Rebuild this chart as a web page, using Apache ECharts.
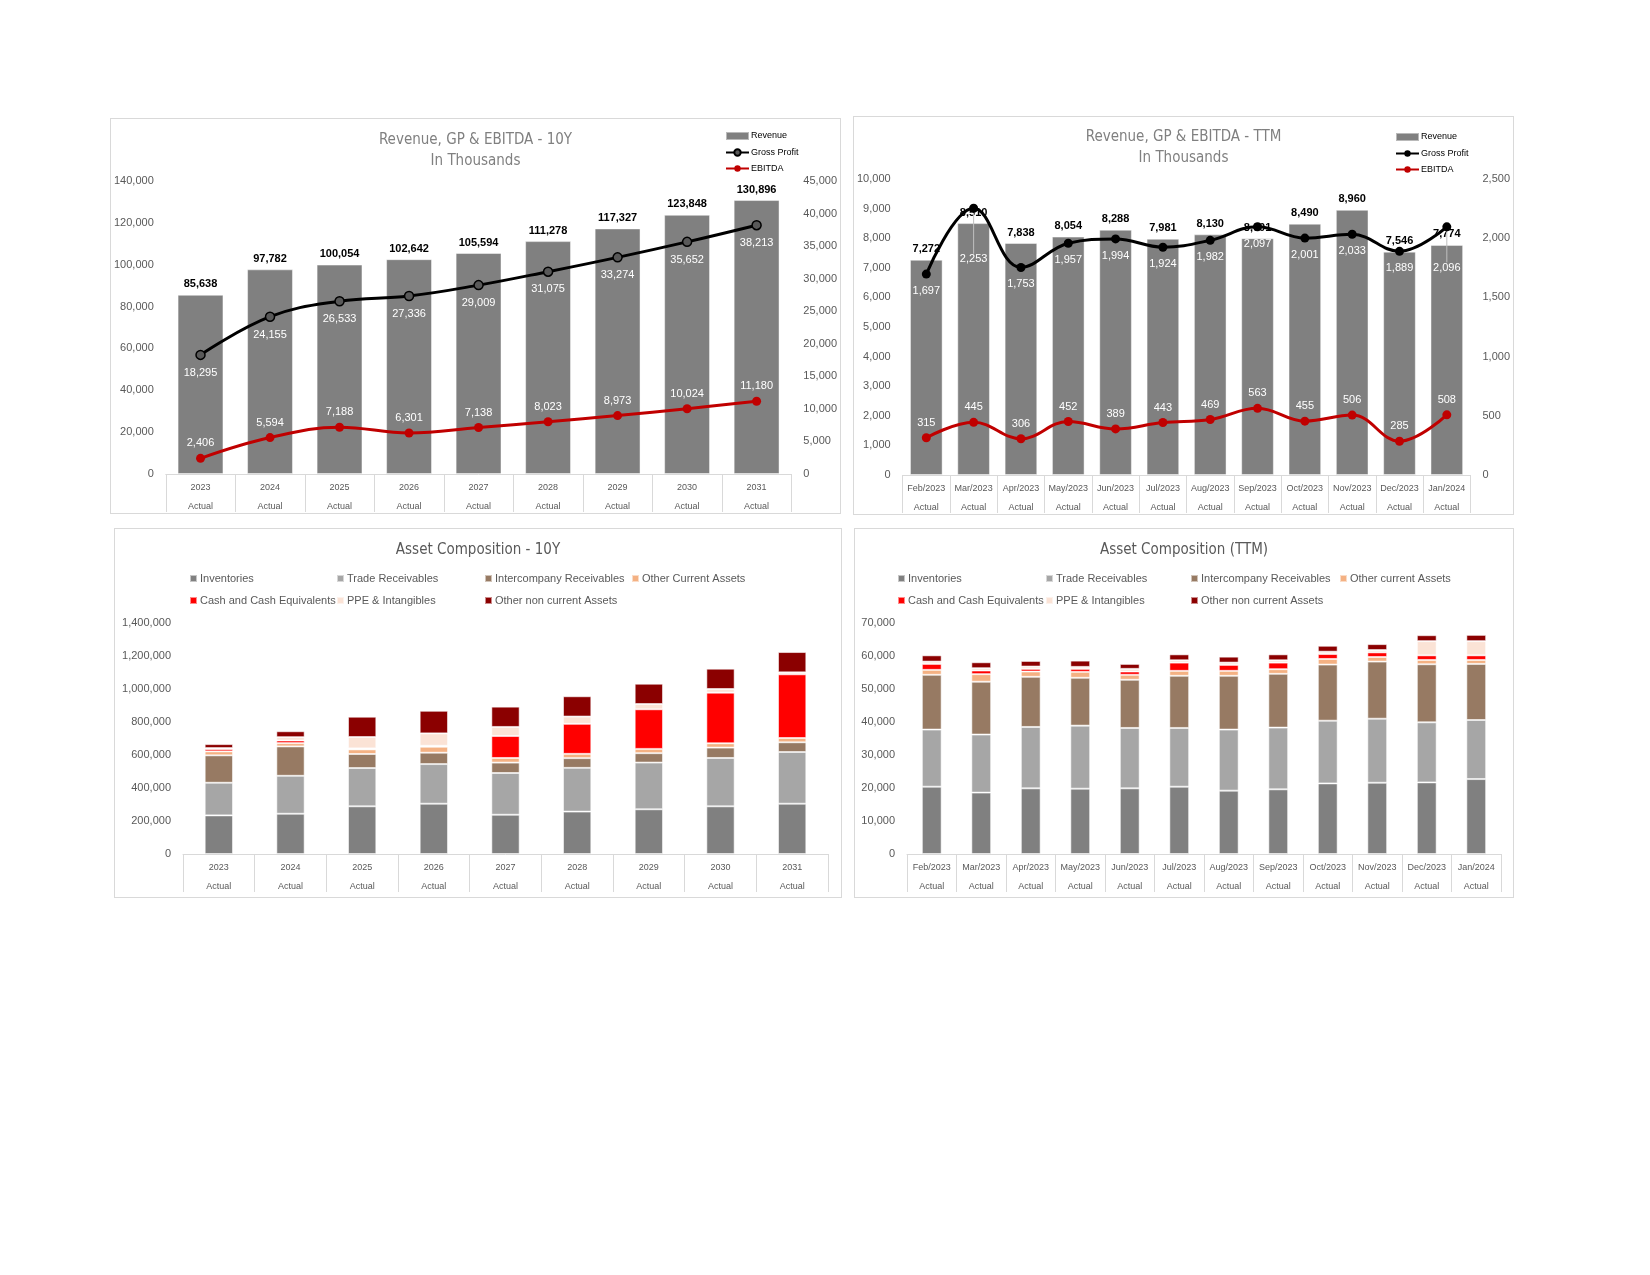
<!DOCTYPE html>
<html>
<head>
<meta charset="utf-8">
<title>Revenue and Asset Composition</title>
<script src="https://cdn.jsdelivr.net/npm/echarts@6/dist/echarts.min.js"></script>
<style>
    html, body { margin: 0; padding: 0; background: #fff; }
    body { width: 1650px; height: 1275px; position: relative; overflow: hidden; }
    .panel { position: absolute; box-sizing: border-box; border: 1px solid #d9d9d9; background: #fff; }
</style>
</head>
<body>
<div class="panel" id="rev10y" style="left:110px;top:118px;width:731px;height:396px;"></div>
<div class="panel" id="revTtm" style="left:853px;top:116px;width:661px;height:399px;"></div>
<div class="panel" id="asset10y" style="left:114px;top:528px;width:728px;height:370px;"></div>
<div class="panel" id="assetTtm" style="left:854px;top:528px;width:660px;height:370px;"></div>
<script>
// ---- data: 10 year ----
var years = ['2023', '2024', '2025', '2026', '2027', '2028', '2029', '2030', '2031'];
var revenue10y = [85638, 97782, 100054, 102642, 105594, 111278, 117327, 123848, 130896];
var grossProfit10y = [18295, 24155, 26533, 27336, 29009, 31075, 33274, 35652, 38213];
var ebitda10y = [2406, 5594, 7188, 6301, 7138, 8023, 8973, 10024, 11180];

// ---- data: trailing twelve months ----
var months = ['Feb/2023', 'Mar/2023', 'Apr/2023', 'May/2023', 'Jun/2023', 'Jul/2023',
    'Aug/2023', 'Sep/2023', 'Oct/2023', 'Nov/2023', 'Dec/2023', 'Jan/2024'];
var revenueTtm = [7272, 8510, 7838, 8054, 8288, 7981, 8130, 8001, 8490, 8960, 7546, 7774];
var grossProfitTtm = [1697, 2253, 1753, 1957, 1994, 1924, 1982, 2097, 2001, 2033, 1889, 2096];
var ebitdaTtm = [315, 445, 306, 452, 389, 443, 469, 563, 455, 506, 285, 508];

var periodType = 'Actual';

// ---- asset composition 10Y ----
var inventories10y = [234000, 244000, 289000, 305000, 238000, 257000, 271000, 289000, 305000];
var tradeRec10y = [198000, 230000, 232000, 240000, 253000, 265000, 283000, 293000, 313000];
var interco10y = [166000, 178000, 85000, 69000, 63000, 59000, 57000, 63000, 59000];
var otherCurrent10y = [24000, 20000, 28000, 36000, 28000, 26000, 26000, 26000, 26000];
var cash10y = [14000, 16000, 6000, 6000, 133000, 182000, 240000, 307000, 386000];
var ppe10y = [6000, 20000, 69000, 75000, 55000, 44000, 32000, 22000, 12000];
var otherNonCurrent10y = [24000, 36000, 123000, 137000, 123000, 123000, 123000, 123000, 123000];

// ---- asset composition TTM ----
var inventoriesTtm = [20400, 18600, 19900, 19800, 19900, 20400, 19200, 19600, 21400, 21600, 21700, 22700];
var tradeRecTtm = [17300, 17600, 18600, 19100, 18300, 17800, 18500, 18700, 19000, 19400, 18200, 17900];
var intercoTtm = [16600, 16000, 15200, 14500, 14600, 15800, 16300, 16300, 17000, 17300, 17600, 17000];
var otherCurrentTtm = [1500, 2300, 1600, 1800, 1500, 1500, 1500, 1400, 1700, 1400, 1300, 1200];
var cashTtm = [1800, 1100, 800, 900, 1000, 2500, 1800, 2000, 1500, 1400, 1400, 1400];
var ppeTtm = [700, 700, 700, 600, 800, 700, 700, 700, 700, 700, 4300, 4300];
var otherNonCurrentTtm = [1900, 1800, 1700, 1900, 1500, 1800, 1800, 1800, 1800, 1800, 1800, 1900];

var NARROW = "'Liberation Sans Narrow', 'DejaVu Sans Condensed', sans-serif";
var SANS = "'Liberation Sans', Arial, sans-serif";
var AXIS_GREY = '#d9d9d9';
var TEXT_GREY = '#595959';

function fmt(v) {
    return Number(v).toLocaleString('en-US');
}

//两行的类目轴（年份 / Actual）
function tableAxis(cats) {
    return {
        type: 'category',
        data: cats,
        axisLine: { lineStyle: { color: AXIS_GREY } },
        axisTick: { show: true, interval: 0, length: 38, lineStyle: { color: AXIS_GREY } },
        axisLabel: {
            interval: 0,
            margin: 4,
            formatter: function (v) { return '{y|' + v + '}\n{a|' + periodType + '}'; },
            rich: {
                y: { fontSize: 9, lineHeight: 19, color: TEXT_GREY, fontFamily: SANS },
                a: { fontSize: 9, lineHeight: 19, color: TEXT_GREY, fontFamily: SANS }
            }
        }
    };
}

function valueAxis(max, interval, pos) {
    return {
        type: 'value',
        position: pos,
        min: 0,
        max: max,
        interval: interval,
        axisLine: { show: false },
        axisTick: { show: false },
        splitLine: { show: false },
        axisLabel: { margin: 12, fontSize: 11, color: TEXT_GREY, fontFamily: SANS, formatter: fmt }
    };
}

function revenueOption(cfg) {
    var shift = cfg.gpLabelShift || {};
    //被遮挡的标签往下挪，只在这些点画引导线
    var gpData = cfg.gp.map(function (v, i) {
        return shift[i] ? { value: v, labelLine: { show: true } } : { value: v, labelLine: { show: false } };
    });
    return {
        animation: false,
        title: {
            text: cfg.title + '\nIn Thousands',
            left: 'center',
            top: cfg.titleTop,
            padding: 0,
            textStyle: { fontSize: 15, lineHeight: 21, color: '#808080', fontWeight: 'normal', fontFamily: NARROW }
        },
        legend: {
            orient: 'vertical',
            left: cfg.legendLeft,
            top: cfg.legendTop,
            padding: 0,
            itemWidth: 23,
            itemHeight: 8,
            itemGap: 7,
            textStyle: { fontSize: 9, color: '#000', fontFamily: SANS, padding: [0, 0, 0, -3] },
            data: [{ name: 'Revenue', icon: 'rect' }, 'Gross Profit', 'EBITDA']
        },
        grid: cfg.grid,
        xAxis: tableAxis(cfg.cats),
        yAxis: [valueAxis(cfg.leftMax, cfg.leftInterval, 'left'), valueAxis(cfg.rightMax, cfg.rightInterval, 'right')],
        series: [
            {
                name: 'Revenue',
                type: 'bar',
                barCategoryGap: cfg.gap,
                data: cfg.revenue,
                itemStyle: { color: '#808080', borderColor: 'rgba(255,255,255,0.45)', borderWidth: 1 },
                label: {
                    show: true, position: 'top', distance: 5, formatter: function (p) { return fmt(p.value); },
                    fontSize: 11, fontWeight: 'bold', color: '#000', fontFamily: SANS
                }
            },
            {
                name: 'Gross Profit',
                type: 'line',
                yAxisIndex: 1,
                smooth: 0.4,
                data: gpData,
                symbol: 'circle',
                symbolSize: cfg.gpSymbol,
                lineStyle: { color: '#000', width: 3 },
                itemStyle: { color: cfg.gpFill, borderColor: '#000', borderWidth: cfg.gpBorder },
                label: {
                    show: true, position: 'bottom', distance: 7, formatter: function (p) { return fmt(p.value); },
                    fontSize: 11, color: '#fff', fontFamily: SANS
                },
                labelLayout: function (p) {
                    if (shift[p.dataIndex]) {
                        return { dy: shift[p.dataIndex] };
                    }
                },
                labelLine: { lineStyle: { color: '#bfbfbf', width: 1 } },
                z: 3
            },
            {
                name: 'EBITDA',
                type: 'line',
                yAxisIndex: 1,
                smooth: 0.4,
                data: cfg.ebitda,
                symbol: 'circle',
                symbolSize: 9,
                lineStyle: { color: '#c00000', width: 3 },
                itemStyle: { color: '#c00000' },
                label: {
                    show: true, position: 'top', distance: 5, formatter: function (p) { return fmt(p.value); },
                    fontSize: 11, color: '#fff', fontFamily: SANS
                },
                z: 3
            }
        ]
    };
}

var assetColors = ['#808080', '#a6a6a6', '#977a63', '#f4b183', '#ff0000', '#fbe3d6', '#8b0000'];

function assetOption(cfg) {
    var names = cfg.names;
    var legends = names.map(function (n, i) {
        return {
            data: [{ name: n, icon: 'rect' }],
            left: cfg.legendX[i % 4],
            top: i < 4 ? 44 : 66,
            padding: 0,
            itemWidth: 7,
            itemHeight: 7,
            textStyle: { fontSize: 11, color: TEXT_GREY, fontFamily: SANS, padding: [0, 0, 0, -2] }
        };
    });
    var series = cfg.values.map(function (vals, i) {
        return {
            name: names[i],
            type: 'bar',
            stack: 'assets',
            barWidth: cfg.barWidth,
            data: vals,
            itemStyle: { color: assetColors[i], borderColor: 'rgba(255,255,255,0.55)', borderWidth: 1 }
        };
    });
    return {
        animation: false,
        title: {
            text: cfg.title,
            left: 'center',
            top: 14,
            padding: 0,
            textStyle: { fontSize: 15, color: TEXT_GREY, fontWeight: 'normal', fontFamily: NARROW }
        },
        legend: legends,
        grid: cfg.grid,
        xAxis: tableAxis(cfg.cats),
        yAxis: valueAxis(cfg.max, cfg.interval, 'left'),
        series: series
    };
}

var rev10y = echarts.init(document.getElementById('rev10y'));
rev10y.setOption(revenueOption({
    title: 'Revenue, GP & EBITDA - 10Y',
    titleTop: 11,
    legendLeft: 614,
    legendTop: 12,
    grid: { left: 53, right: 47, top: 62, bottom: 39 },
    cats: years,
    gap: '34%',
    leftMax: 140000, leftInterval: 20000,
    rightMax: 45000, rightInterval: 5000,
    revenue: revenue10y, gp: grossProfit10y, ebitda: ebitda10y,
    gpSymbol: 9, gpFill: '#595959', gpBorder: 1.5
}));

var revTtm = echarts.init(document.getElementById('revTtm'));
revTtm.setOption(revenueOption({
    title: 'Revenue, GP & EBITDA - TTM',
    titleTop: 10,
    legendLeft: 541,
    legendTop: 15,
    grid: { left: 48, right: 41, top: 62, bottom: 39 },
    cats: months,
    gap: '31%',
    leftMax: 10000, leftInterval: 1000,
    rightMax: 2500, rightInterval: 500,
    revenue: revenueTtm, gp: grossProfitTtm, ebitda: ebitdaTtm,
    gpSymbol: 9, gpFill: '#000', gpBorder: 0,
    gpLabelShift: { 1: 34, 11: 24 }
}));

var asset10y = echarts.init(document.getElementById('asset10y'));
asset10y.setOption(assetOption({
    title: 'Asset Composition - 10Y',
    names: ['Inventories', 'Trade Receivables', 'Intercompany Receivables', 'Other Current Assets',
        'Cash and Cash Equivalents', 'PPE & Intangibles', 'Other non current Assets'],
    legendX: [74, 221, 369, 516],
    grid: { left: 68, right: 13, top: 94, bottom: 43 },
    cats: years,
    barWidth: '39.5%',
    max: 1400000, interval: 200000,
    values: [inventories10y, tradeRec10y, interco10y, otherCurrent10y, cash10y, ppe10y, otherNonCurrent10y]
}));

var assetTtm = echarts.init(document.getElementById('assetTtm'));
assetTtm.setOption(assetOption({
    title: 'Asset Composition (TTM)',
    names: ['Inventories', 'Trade Receivables', 'Intercompany Receivables', 'Other current Assets',
        'Cash and Cash Equivalents', 'PPE & Intangibles', 'Other non current Assets'],
    legendX: [42, 190, 335, 484],
    grid: { left: 52, right: 12, top: 94, bottom: 43 },
    cats: months,
    barWidth: '40%',
    max: 70000, interval: 10000,
    values: [inventoriesTtm, tradeRecTtm, intercoTtm, otherCurrentTtm, cashTtm, ppeTtm, otherNonCurrentTtm]
}));
</script>
</body>
</html>
